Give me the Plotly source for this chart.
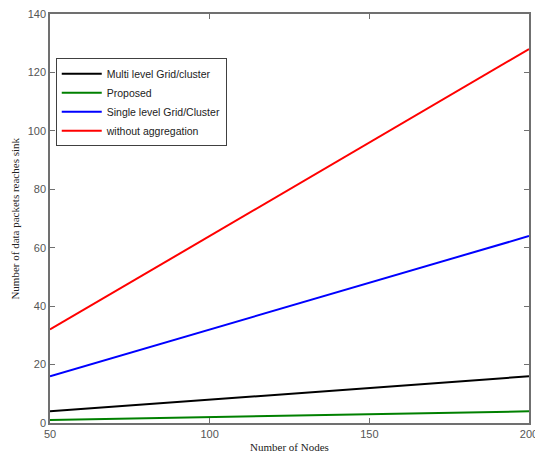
import plotly.graph_objects as go

nodes = [50, 100, 150, 200]
multi_level = [4, 8, 12, 16]
proposed = [1, 2, 3, 4]
single_level = [16, 32, 48, 64]
without_agg = [32, 64, 96, 128]

series = [
    ("Multi level Grid/cluster", multi_level, "#000000"),
    ("Proposed", proposed, "#008000"),
    ("Single level Grid/Cluster", single_level, "#0000ff"),
    ("without aggregation", without_agg, "#ff0000"),
]

fig = go.Figure()
for name, vals, col in series:
    fig.add_trace(go.Scatter(x=nodes, y=vals, mode="lines", name=name,
                             line=dict(color=col, width=2)))

axis_common = dict(showgrid=False, zeroline=False, showline=True, mirror="ticks",
                   linecolor="#707070", linewidth=1.5, ticks="inside", ticklen=5,
                   tickcolor="#707070", ticklabeloverflow="allow", automargin=False,
                   tickfont=dict(family="Arial", size=11, color="#555555"))

fig.update_xaxes(range=[50, 200], tickvals=[50, 100, 150, 200], **axis_common)
fig.update_yaxes(range=[0, 140], tickvals=[0, 20, 40, 60, 80, 100, 120, 140], **axis_common)

fig.update_layout(
    width=535, height=456,
    margin=dict(l=50, r=6, t=14, b=33, autoexpand=False),
    plot_bgcolor="white", paper_bgcolor="white",
    legend=dict(x=0.012, y=0.892, xanchor="left", yanchor="top",
                bgcolor="white", bordercolor="#404040", borderwidth=1,
                font=dict(family="Arial", size=10.5, color="#222222"),
                tracegroupgap=0, itemwidth=40),
    showlegend=True,
    annotations=[
        dict(text="Number of Nodes", x=0.5, y=-0.059, xref="paper", yref="paper",
             xanchor="center", yanchor="middle", showarrow=False,
             font=dict(family="Liberation Serif", size=11, color="#222222")),
        dict(text="Number of data packets reaches sink", x=-0.075, y=0.5,
             xref="paper", yref="paper", textangle=-90, xanchor="center", yanchor="middle",
             showarrow=False, font=dict(family="Liberation Serif", size=11, color="#222222")),
    ],
)

fig.write_html("out.html", config={"displayModeBar": False},
               post_script="document.body.style.margin='0';document.body.style.overflow='hidden';")
